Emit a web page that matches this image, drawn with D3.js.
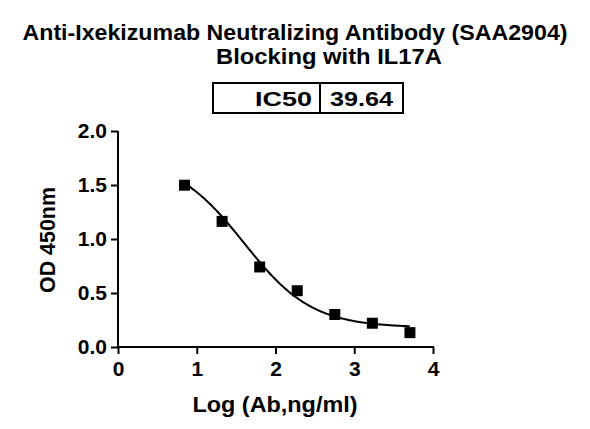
<!DOCTYPE html>
<html><head><meta charset="utf-8">
<script src="https://cdn.jsdelivr.net/npm/d3@7"></script>
<style>body{margin:0;background:#fff}text{font-family:"Liberation Sans",Arial,sans-serif;font-weight:bold;fill:#000}</style>
</head><body><svg id="c" width="590" height="429"></svg>
<script>
const logConc = [0.845, 1.322, 1.799, 2.276, 2.753, 3.230, 3.707];
const od = [1.498, 1.163, 0.741, 0.521, 0.301, 0.220, 0.133];
const xTicks = [0, 1, 2, 3, 4];
const yTicks = [0, 0.5, 1.0, 1.5, 2.0];
const ic50 = 39.64;
const fitTop = 1.75, fitBottom = 0.18, fitHill = 1.0;

const svg = d3.select("#c");
const x = d3.scaleLinear().domain([0, 4]).range([118, 433]);
const y = d3.scaleLinear().domain([0, 2]).range([347, 131]);

svg.append("text").attr("x", 295).attr("y", 40).attr("text-anchor", "middle")
  .style("font-size", "22px").attr("textLength", 545).attr("lengthAdjust", "spacingAndGlyphs")
  .text("Anti-Ixekizumab Neutralizing Antibody (SAA2904)");
svg.append("text").attr("x", 329).attr("y", 64).attr("text-anchor", "middle")
  .style("font-size", "22px").attr("textLength", 226).attr("lengthAdjust", "spacingAndGlyphs")
  .text("Blocking with IL17A");

const g0 = svg.append("g");
g0.append("rect").attr("x", 213).attr("y", 83).attr("width", 190).attr("height", 30)
  .attr("fill", "none").attr("stroke", "#000").attr("stroke-width", 2);
g0.append("line").attr("x1", 320).attr("x2", 320).attr("y1", 83).attr("y2", 113).attr("stroke", "#000").attr("stroke-width", 2);
g0.append("text").attr("x", 312).attr("y", 106).attr("text-anchor", "end").style("font-size", "21px")
  .attr("textLength", 57).attr("lengthAdjust", "spacingAndGlyphs").text("IC50");
g0.append("text").attr("x", 330).attr("y", 106).style("font-size", "21px")
  .attr("textLength", 63).attr("lengthAdjust", "spacingAndGlyphs").text(ic50.toFixed(2));

const xa = svg.append("g").attr("transform", "translate(0,347)")
  .call(d3.axisBottom(x).tickValues(xTicks).tickSize(7).tickFormat(d3.format("d")));
const ya = svg.append("g").attr("transform", "translate(118,0)")
  .call(d3.axisLeft(y).tickValues(yTicks).tickSize(7).tickFormat(d3.format(".1f")));
[xa, ya].forEach(a => {
  a.select(".domain").attr("stroke-width", 2);
  a.selectAll(".tick line").attr("stroke-width", 2);
  a.selectAll("text").style("font-size", "21px").style("font-family", "Liberation Sans, Arial")
    .style("font-weight", "bold").attr("fill", "#000");
});
xa.selectAll("text").attr("dy", "0.9em");
ya.selectAll("text").attr("dx", "-1px");
xa.select(".domain").attr("d", "M118,0H434");
ya.select(".domain").attr("d", "M0,348V131");

svg.append("text").attr("x", 275).attr("y", 412).attr("text-anchor", "middle").style("font-size", "22px")
  .attr("textLength", 165).attr("lengthAdjust", "spacingAndGlyphs").text("Log (Ab,ng/ml)");
svg.append("text").attr("transform", "translate(55,240) rotate(-90)").attr("text-anchor", "middle")
  .style("font-size", "22px").attr("textLength", 106).attr("lengthAdjust", "spacingAndGlyphs").text("OD 450nm");

const lic = Math.log10(ic50);
const fx = d3.range(logConc[0], logConc[logConc.length - 1] + 0.001, 0.02);
const curve = fx.map(v => [v, fitBottom + (fitTop - fitBottom) / (1 + Math.pow(10, (v - lic) * fitHill))]);
svg.append("path").attr("d", d3.line().x(d => x(d[0])).y(d => y(d[1]))(curve))
  .attr("fill", "none").attr("stroke", "#000").attr("stroke-width", 2);

svg.selectAll("rect.pt").data(logConc).join("rect").attr("class", "pt")
  .attr("x", (d) => x(d) - 5.5).attr("y", (d, i) => y(od[i]) - 5.5)
  .attr("width", 11).attr("height", 11).attr("fill", "#000");
</script></body></html>
